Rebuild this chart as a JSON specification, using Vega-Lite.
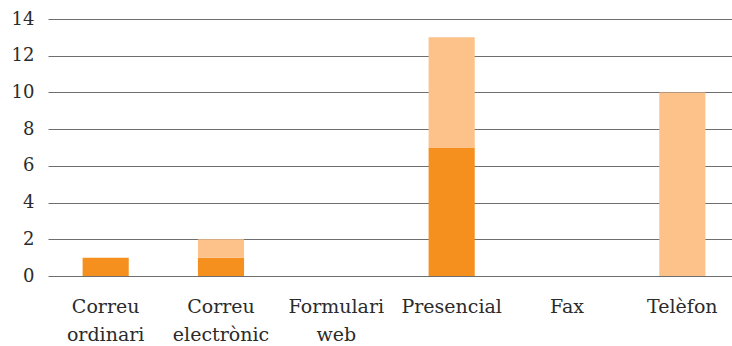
{
  "$schema": "https://vega.github.io/schema/vega-lite/v6.json",
  "autosize": "none",
  "padding": {"left": 48, "top": 19, "right": 0, "bottom": 70},
  "width": 692,
  "height": 257,
  "background": "white",
  "data": {
    "values": [
      {"canal": "Correu ordinari", "serie": "S1", "valor": 1},
      {"canal": "Correu ordinari", "serie": "S2", "valor": 0},
      {"canal": "Correu electrònic", "serie": "S1", "valor": 1},
      {"canal": "Correu electrònic", "serie": "S2", "valor": 1},
      {"canal": "Formulari web", "serie": "S1", "valor": 0},
      {"canal": "Formulari web", "serie": "S2", "valor": 0},
      {"canal": "Presencial", "serie": "S1", "valor": 7},
      {"canal": "Presencial", "serie": "S2", "valor": 6},
      {"canal": "Fax", "serie": "S1", "valor": 0},
      {"canal": "Fax", "serie": "S2", "valor": 0},
      {"canal": "Telèfon", "serie": "S1", "valor": 0},
      {"canal": "Telèfon", "serie": "S2", "valor": 10}
    ]
  },
  "mark": {"type": "bar"},
  "encoding": {
    "x": {
      "field": "canal",
      "type": "nominal",
      "sort": null,
      "scale": {"paddingInner": 0.6, "paddingOuter": 0.3},
      "axis": {
        "title": null,
        "labelAngle": 0,
        "labelExpr": "split(datum.label, ' ')",
        "labelFont": "DejaVu Serif",
        "labelFontSize": 19,
        "labelColor": "#2b2b2b",
        "labelLineHeight": 28,
        "labelPadding": 21,
        "labelBaseline": "top",
        "ticks": false,
        "domain": false,
        "grid": false
      }
    },
    "y": {
      "field": "valor",
      "type": "quantitative",
      "stack": "zero",
      "scale": {"domain": [0, 14], "nice": false},
      "axis": {
        "title": null,
        "values": [0, 2, 4, 6, 8, 10, 12, 14],
        "labelFont": "DejaVu Serif",
        "labelFontSize": 18,
        "labelColor": "#2b2b2b",
        "labelPadding": 14,
        "ticks": false,
        "domain": false,
        "gridColor": "#6e6e6e",
        "gridWidth": 1.2
      }
    },
    "color": {
      "field": "serie",
      "type": "nominal",
      "scale": {"domain": ["S1", "S2"], "range": ["#f5901f", "#fcc28a"]},
      "legend": null
    },
    "order": {"field": "serie", "type": "nominal", "sort": "ascending"}
  },
  "config": {"view": {"stroke": null}}
}
